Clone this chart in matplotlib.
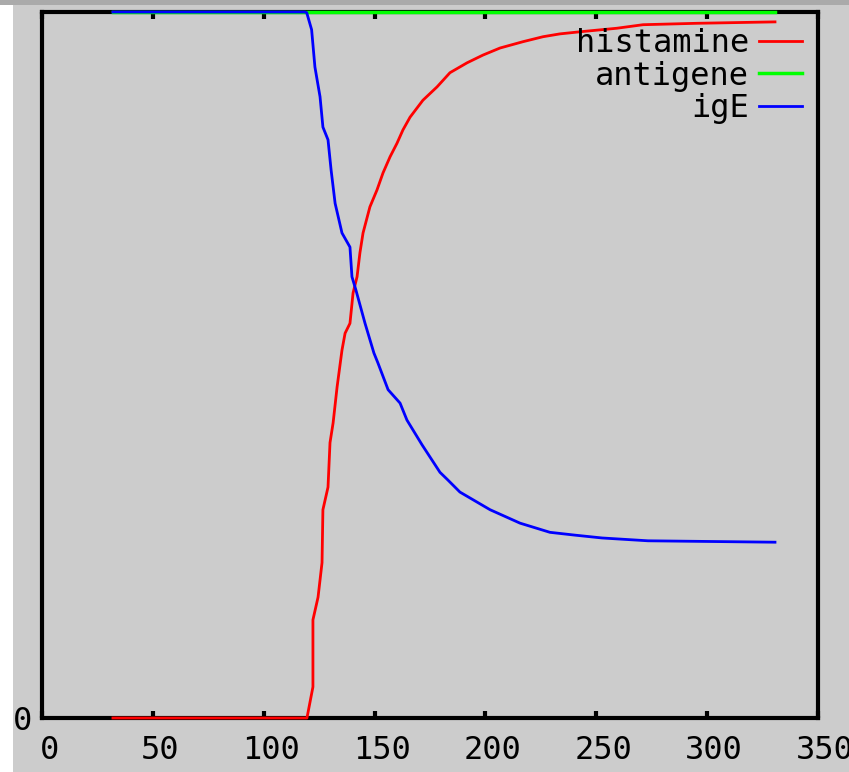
import matplotlib
matplotlib.use("Agg")
import matplotlib.pyplot as plt
from matplotlib.patches import Rectangle
from matplotlib.transforms import ScaledTranslation

# time (x) and normalised levels (y)
ige_t = [32.0, 118.6, 119.4, 121.6, 123.1, 125.4, 126.7, 129.0, 130.4, 132.2,
         135.3, 138.9, 139.8, 141.6, 145.7, 149.7, 151.5, 156.1, 161.5, 164.6,
         171.4, 179.5, 183.1, 188.5, 202.1, 215.6, 229.1, 240.4, 252.6, 273.3, 330.6]
ige_v = [1.0, 1.0, 0.999, 0.975, 0.922, 0.880, 0.837, 0.819, 0.776, 0.729,
         0.687, 0.667, 0.625, 0.606, 0.559, 0.517, 0.503, 0.465, 0.446, 0.422,
         0.387, 0.348, 0.337, 0.320, 0.295, 0.276, 0.263, 0.259, 0.255, 0.251, 0.249]

hist_t = [32.0, 119.5, 122.2, 122.2, 124.5, 126.3, 126.7, 129.0, 129.9, 131.3,
          133.1, 135.3, 136.7, 138.9, 140.3, 142.1, 143.4, 144.8, 147.9, 151.1,
          153.8, 157.0, 160.1, 162.8, 166.0, 171.8, 178.2, 184.0, 191.7, 198.9,
          206.6, 217.0, 226.0, 233.6, 242.7, 259.3, 271.1, 295.4, 330.6]
hist_v = [0.0, 0.0, 0.044, 0.139, 0.171, 0.220, 0.295, 0.327, 0.390, 0.418,
          0.469, 0.521, 0.545, 0.559, 0.602, 0.625, 0.659, 0.687, 0.724, 0.748,
          0.772, 0.795, 0.814, 0.833, 0.851, 0.875, 0.894, 0.914, 0.928, 0.939,
          0.949, 0.958, 0.965, 0.969, 0.972, 0.977, 0.982, 0.984, 0.986]

anti_t = [32.0, 330.6]
anti_v = [1.0, 1.0]

x_ticks = [0, 50, 100, 150, 200, 250, 300, 350]

plt.rcParams["font.family"] = ["DejaVu Sans Mono", "DejaVu Sans"]

fig = plt.figure(figsize=(8.49, 7.72), dpi=100, facecolor="#cccccc")
# window edges from the screenshot
fig.patches.append(Rectangle((0, 0), 13 / 849, 1, transform=fig.transFigure,
                             facecolor="white", edgecolor="none"))
fig.patches.append(Rectangle((0, 1 - 5 / 772), 1, 5 / 772, transform=fig.transFigure,
                             facecolor="#aaaaaa", edgecolor="none"))

ax = fig.add_axes([42 / 849, 54 / 772, 776 / 849, 706 / 772])
ax.set_facecolor("#cccccc")

ax.plot(hist_t, hist_v, color="#ff0000", lw=2, label="histamine",
        zorder=3, clip_on=False)
ax.plot(anti_t, anti_v, color="#00ff00", lw=2.5, label="antigene",
        zorder=3, clip_on=False)
ax.plot(ige_t, ige_v, color="#0000ff", lw=2, label="igE",
        zorder=3, clip_on=False)

ax.set_xlim(0, 350)
ax.set_ylim(0, 1)
ax.set_xticks(x_ticks)
ax.set_yticks([0])
ax.tick_params(axis="x", direction="in", length=5, width=3, top=True,
               labelsize=23, pad=12)
ax.tick_params(axis="y", direction="in", length=0, labelsize=23, pad=7)
for lab in ax.get_xticklabels():
    lab.set_transform(lab.get_transform() + ScaledTranslation(0.07, 0, fig.dpi_scale_trans))

for sp in ax.spines.values():
    sp.set_linewidth(3)
    sp.set_color("black")
    sp.set_zorder(2.5)

ax.legend(loc="upper right", frameon=False, markerfirst=False, fontsize=23,
          handlelength=1.35, handletextpad=0.3, labelspacing=0.05,
          borderaxespad=0.2, borderpad=0.3)

fig.savefig("out.png", dpi=100, facecolor=fig.get_facecolor())
